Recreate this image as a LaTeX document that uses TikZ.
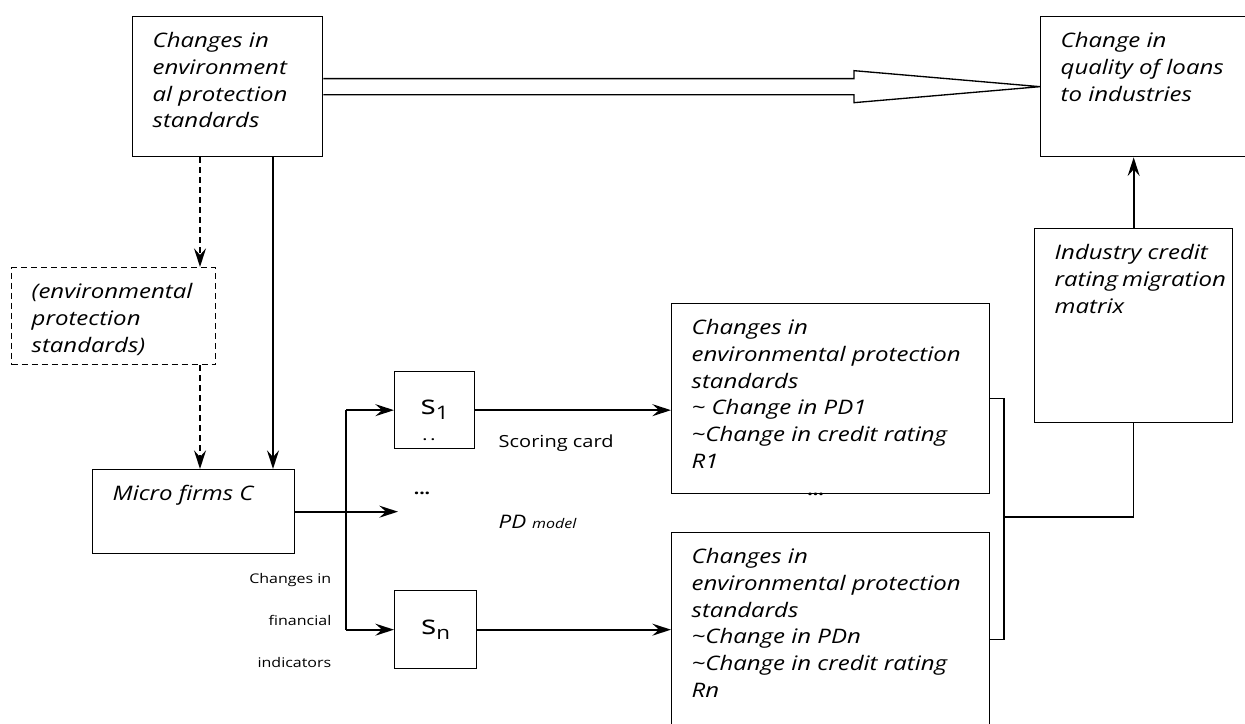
\documentclass[tikz,border=0pt]{standalone}
\usepackage{fontspec}
\setmainfont[FakeStretch=1.2]{Open Sans}
\usepackage{tikz}
\usetikzlibrary{arrows.meta, positioning, calc}

\tikzset{
  blk/.style={draw, line width=1pt, anchor=north west, inner xsep=15pt, inner ysep=12pt,
    font=\itshape\fontsize{15}{20}\selectfont},
  dblk/.style={blk, dash pattern=on 4.5pt off 3pt},
  sblk/.style={draw, line width=1pt, anchor=north west, inner sep=0pt,
    font=\fontsize{20}{24}\selectfont},
  line/.style={line width=1pt},
  arr/.style={line width=1.3pt, -{Stealth[length=14pt, width=9pt, inset=5pt]}},
  darr/.style={arr, dash pattern=on 4.5pt off 3pt},
  lbl/.style={font=\fontsize{12.5}{16}\selectfont},
}
\newcommand{\boxtext}[3]{\parbox[t][#2][t]{#1}{\raggedright\hyphenpenalty=10000 #3}}

\begin{document}
\begin{tikzpicture}[x=0.75pt, y=-0.75pt]
      \useasboundingbox (0,0) rectangle (1245,724);
      \clip (0,0) rectangle (1245,724);

      % boxes
      \node[blk] (envstd) at (132,16) {\boxtext{112.5pt}{81pt}{Changes in\\environment\\al~protection\\standards}};
      \node[blk] (loans) at (1040,16) {\boxtext{127.5pt}{81pt}{Change in\\quality~of~loans\\to~industries}};
      \node[dblk] (dsh) at (11,267) {\boxtext{123pt}{48.75pt}{(environmental\\protection\\standards)}};
      \node[blk] (micro) at (92,469) {\boxtext{121.5pt}{39pt}{Micro~firms~C}};
      \node[blk] (ind) at (1034,228) {\boxtext{118.5pt}{121.5pt}{Industry~credit\\rating~migration\\matrix}};
      \node[blk] (r1) at (671,303) {\boxtext{208.5pt}{118.5pt}{Changes in\\environmental~protection\\standards\\\textasciitilde{}~Change~in~PD1\\\textasciitilde Change~in~credit~rating\\R1}};
      \node[blk] (rn) at (671,532) {\boxtext{208.5pt}{135.75pt}{Changes in\\environmental~protection\\standards\\\textasciitilde Change~in~PDn\\\textasciitilde Change~in~credit~rating\\Rn}};
      \node[sblk, minimum width=60pt, minimum height=57.75pt] (s1) at (394,371) {s\raisebox{-0.35ex}{\fontsize{14}{14}\selectfont 1}};
      \node[sblk, minimum width=61.5pt, minimum height=58.5pt] (sn) at (394,590) {s\raisebox{-0.35ex}{\fontsize{14}{14}\selectfont n}};

      % labels
      \node[font=\bfseries\fontsize{9}{9}\selectfont] (s1dots) at (429,440) {.\,\,.};
      \node[font=\bfseries\fontsize{12}{12}\selectfont] (mdots) at (422,493) {...};
      \node[font=\bfseries\fontsize{12}{12}\selectfont] (rdots) at ($(r1.south)+(-15,0)$) {...};
      \node[lbl, anchor=west] (score) at (494,443) {Scoring card};
      \node[anchor=west, font=\itshape\fontsize{14}{16}\selectfont] (pdm) at (494,522) {PD {\fontsize{10}{12}\selectfont model}};
      \node[anchor=east, align=right, font=\fontsize{10}{31.5}\selectfont] (fin) at (336,620) {Changes in\\financial\\indicators};

      % wide arrow
      \draw[line] ($(envstd.east)+(0,-8)$) -- ($(loans.west)+(-186,-8)$) -- ++(0,-8) -- (loans.west)
        -- ($(loans.west)+(-186,16)$) -- ++(0,-8) -- ($(envstd.east)+(0,8)$);

      % connectors
      \coordinate (dx) at (200,0);
      \coordinate (sx) at (273,0);
      \draw[darr] (envstd.south -| dx) -- (dsh.north -| dx);
      \draw[darr] (dsh.south -| dx) -- (micro.north -| dx);
      \draw[arr] (envstd.south -| sx) -- (micro.north -| sx);

      \coordinate (fork) at (346,515);
      \coordinate (mtip) at (398,0);
      \draw[arr] (micro.east) -- (micro.east -| mtip);
      \draw[line] (s1.west -| fork) -- (sn.west -| fork);
      \draw[arr] (s1.west -| fork) -- (s1.west);
      \draw[arr] (sn.west -| fork) -- (sn.west);
      \draw[arr] (s1.east) -- (s1.east -| r1.west);
      \draw[arr] (sn.east) -- (sn.east -| rn.west);

      \coordinate (join) at (1004,517);
      \draw[line] (r1.east) -| (join) |- (rn.east);
      \draw[line] (join) -| (ind.south);
      \draw[arr] (ind.north) -- (ind.north |- loans.south);
\end{tikzpicture}
\end{document}
